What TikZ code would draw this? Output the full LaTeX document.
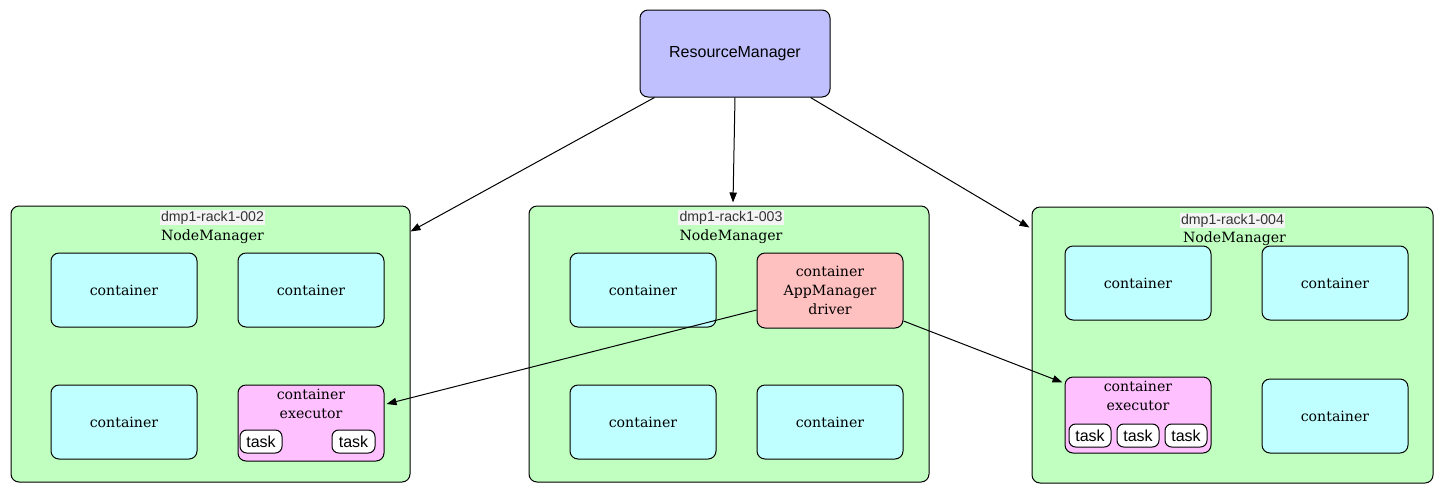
\documentclass[tikz,border=0pt]{standalone}
\usepackage{fontspec}
\setmainfont{DejaVu Serif}
\setsansfont{Liberation Sans}
\usetikzlibrary{arrows.meta,calc}
\definecolor{rmblue}{HTML}{C0C0FF}
\definecolor{nmgreen}{HTML}{C0FFC0}
\definecolor{ccyan}{HTML}{C0FFFF}
\definecolor{cpink}{HTML}{FFC0FF}
\definecolor{cred}{HTML}{FFC0C0}
\definecolor{lblbg}{HTML}{F4F4F4}
\definecolor{lbltext}{HTML}{333333}
\begin{document}
\begin{tikzpicture}[x=0.75pt,y=-0.75pt,
  box/.style={draw, rounded corners=6pt, line width=0.75pt, inner sep=0pt, align=center},
  sz/.style 2 args={minimum width=#1*0.75pt, minimum height=#2*0.75pt},
  nm/.style={box, fill=nmgreen, sz={#1}{276}},
  cont/.style={box, fill=ccyan, sz={146}{74}, font=\fontsize{10.6pt}{14pt}\selectfont},
  exec/.style={box, fill=cpink, sz={146}{76}},
  am/.style={box, fill=cred, sz={146}{75}, font=\fontsize{10.6pt}{14.2pt}\selectfont},
  task/.style={box, fill=white, rounded corners=5pt, sz={#1}{23}, font=\sffamily\fontsize{12pt}{14pt}\selectfont},
  rack/.style={fill=lblbg, text=lbltext, inner sep=1pt, font=\sffamily\fontsize{10.6pt}{12pt}\selectfont},
  nmtitle/.style={inner sep=0pt, font=\fontsize{10.6pt}{12pt}\selectfont},
  exectext/.style={label={[anchor=north, inner sep=0pt, yshift=-3pt, align=center, font=\fontsize{10.6pt}{14.2pt}\selectfont]north:container\\executor}},
  arr/.style={line width=0.75pt, -{Triangle[length=7.5pt, width=5.5pt]}}
]
\useasboundingbox (0,0) rectangle (1443,494);

% ResourceManager
\node[box, fill=rmblue, sz={190}{87}, font=\sffamily\fontsize{12pt}{14pt}\selectfont] (rm) at (735,53.5) {ResourceManager};

% NodeManager boxes
\node[nm=399] (b1) at (210.5,344) {};
\node[nm=400] (b2) at (729,344) {};
\node[nm=401] (b3) at (1232.5,345) {};

\node[rack] (r1) at ($(b1.north)+(2,12)$) {dmp1-rack1-002};
\node[nmtitle] (t1) at ($(b1.north)+(2,31)$) {NodeManager};
\node[rack] (r2) at ($(b2.north)+(2,12)$) {dmp1-rack1-003};
\node[nmtitle] (t2) at ($(b2.north)+(2,31)$) {NodeManager};
\node[rack] (r3) at ($(b3.north)+(0,14)$) {dmp1-rack1-004};
\node[nmtitle] (t3) at ($(b3.north)+(2,32)$) {NodeManager};

% Box 1
\node[cont] (c11) at (124,290) {container};
\node[cont] (c12) at (311,290) {container};
\node[cont] (c13) at (124,422) {container};
\node[exec, exectext] (e1) at (311,423) {};
\node[task=42] (k11) at (261,441.5) {task};
\node[task=43] (k12) at (353.5,441.5) {task};

% Box 2
\node[cont] (c21) at (643,290) {container};
\node[am] (am) at (830,290.5) {container\\AppManager\\driver};
\node[cont] (c23) at (643,422) {container};
\node[cont] (c24) at (830,422) {container};

% Box 3
\node[cont] (c31) at (1138,283) {container};
\node[cont] (c32) at (1335,283) {container};
\node[exec, exectext] (e3) at (1138,415) {};
\node[cont] (c34) at (1335,416) {container};
\node[task=42] (k31) at (1090,435.5) {task};
\node[task=42] (k32) at (1138,435.5) {task};
\node[task=42] (k33) at (1186,435.5) {task};

% Arrows
\draw[arr] ($(rm.south west)+(15,0)$) -- ($(b1.north east)+(0,26)$);
\draw[arr] (rm.south) -- ($(b2.north)+(4,-3)$);
\draw[arr] ($(rm.south east)+(-20,0)$) -- ($(b3.north west)+(-2,21)$);
\draw[arr] ($(am.west)+(0,19.5)$) -- ($(e1.east)+(2,-19)$);
\draw[arr] ($(am.east)+(0,30.5)$) -- ($(e3.north west)+(-2,6)$);
\end{tikzpicture}
\end{document}
